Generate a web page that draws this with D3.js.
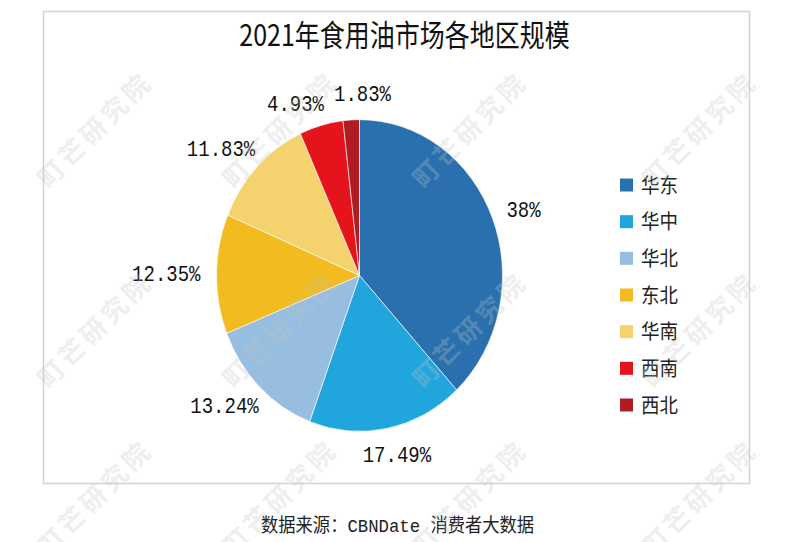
<!DOCTYPE html>
<html><head><meta charset="utf-8">
<script src="https://cdn.jsdelivr.net/npm/d3@7"></script>
<style>body{margin:0;background:#fff}svg{display:block}</style>
</head><body>
<script>
const title = "2021年食用油市场各地区规模";
const regions = ["华东","华中","华北","东北","华南","西南","西北"];
const shares = [38, 17.49, 13.24, 12.35, 11.83, 4.93, 1.83];
const shareLabels = ["38%","17.49%","13.24%","12.35%","11.83%","4.93%","1.83%"];
const colors = ["#2a70ae","#20a6dd","#97bee0","#f2bb1f","#f4d36e","#e5131c","#b01c24"];
const source = "数据来源：CBNDate 消费者大数据";
const watermark = "町芒研究院";

const W = 800, H = 542;
const svg = d3.select("body").append("svg").attr("width", W).attr("height", H);

// frame
svg.append("rect").attr("x", 43.5).attr("y", 11.5).attr("width", 706).attr("height", 472)
  .attr("fill", "#fff").attr("stroke", "#d3d3d3").attr("stroke-width", 1.5);

// title
svg.append("text").attr("transform", "translate(404.5,46) scale(1,1.2)")
  .attr("text-anchor", "middle").attr("font-family", "'Noto Sans CJK SC', sans-serif")
  .attr("font-size", 25).attr("fill", "#111").text(title);

// pie
const cx = 359.5, cy = 275.5, R = 143, sy = 1.09;
const pie = d3.pie().sort(null).value(d => d)(shares);
const arc = d3.arc().innerRadius(0).outerRadius(R);
const g = svg.append("g").attr("transform", `translate(${cx},${cy}) scale(1,${sy})`);
g.selectAll("path").data(pie).join("path")
  .attr("d", arc).attr("fill", (d, i) => colors[i])
  .attr("stroke", "#fff").attr("stroke-width", 0.6);

// labels
const fs = 19, cw = fs * 0.6, lh = 17, gap = 16;
const labels = pie.map((d, i) => {
  const a = (d.startAngle + d.endAngle) / 2;
  const s = Math.sin(a), c = Math.cos(a);
  const w = shareLabels[i].length * cw;
  const px = cx + s * (R + gap), py = cy - c * (R + gap) * sy;
  return { i, w, x: px + s * w / 2, y: py - c * lh / 2 };
});
// simple collision resolution
for (let k = 0; k < 5; k++) {
  for (let a = 0; a < labels.length; a++) for (let b = a + 1; b < labels.length; b++) {
    const A = labels[a], B = labels[b];
    const ox = (A.w + B.w) / 2 + 10 - Math.abs(A.x - B.x);
    const oy = lh - Math.abs(A.y - B.y);
    if (ox > 0 && oy > 0) {
      const dir = A.x < B.x ? -1 : 1;
      A.x += dir * ox / 2; B.x -= dir * ox / 2;
      const ydir = A.y > B.y ? 1 : -1;
      A.y += ydir * 3; B.y -= ydir * 1;
    }
  }
}
svg.append("g").selectAll("text").data(labels).join("text")
  .attr("transform", d => `translate(${d.x},${d.y}) scale(1,1.13)`)
  .attr("dy", "0.36em").attr("text-anchor", "middle")
  .attr("font-family", "'Liberation Mono', monospace").attr("font-size", fs)
  .attr("fill", "#111").text(d => shareLabels[d.i]);

// legend
const ly = d3.scalePoint().domain(regions).range([185, 405]);
const lg = svg.append("g").selectAll("g").data(regions).join("g")
  .attr("transform", d => `translate(620,${ly(d)})`);
lg.append("rect").attr("x", 0).attr("y", -6.5).attr("width", 13).attr("height", 13)
  .attr("fill", (d, i) => colors[i]);
lg.append("text").attr("transform", "translate(21,7.5) scale(1,1.1)")
  .attr("font-family", "'Noto Sans CJK SC', sans-serif").attr("font-size", 18.5)
  .attr("fill", "#222").text(d => d);

// source
svg.append("text").attr("transform", "translate(261,532) scale(1,1.1)")
  .attr("font-family", "'Liberation Mono', 'Noto Sans CJK SC', monospace")
  .attr("font-size", 17.3).attr("fill", "#222").text(source);

// watermarks
const wmX = [95, 280, 470, 700], wmY = [130, 330, 498];
const wm = svg.append("g").attr("pointer-events", "none");
wmY.forEach(y => wmX.forEach(x => {
  wm.append("text").attr("transform", `translate(${x},${y}) rotate(-45)`)
    .attr("text-anchor", "middle").attr("dy", "0.35em")
    .attr("font-family", "'Noto Sans CJK SC', sans-serif").attr("font-size", 26)
    .attr("font-weight", "bold").attr("letter-spacing", 4)
    .attr("fill", "#c4c4c4").attr("opacity", 0.28).text(watermark);
}));
</script>
</body></html>
